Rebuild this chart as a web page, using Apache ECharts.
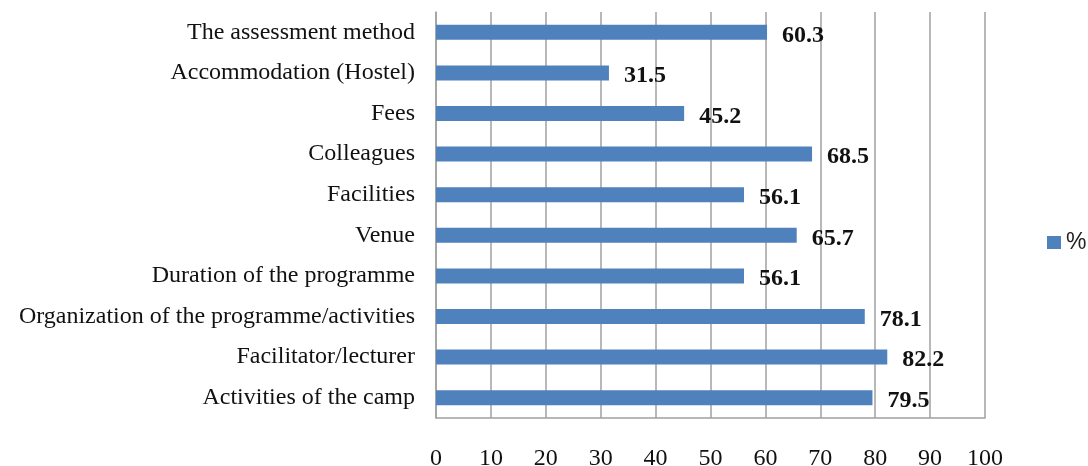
<!DOCTYPE html>
<html>
<head>
<meta charset="utf-8">
<script src="https://cdn.jsdelivr.net/npm/echarts@6/dist/echarts.min.js"></script>
<style>
  html, body { margin: 0; padding: 0; background: #fff; }
  #chart { width: 1088px; height: 466px; }
</style>
</head>
<body>
<div id="chart"></div>
<script>
// Categories listed bottom-to-top (category axis runs upward)
const categories = [
  'Activities of the camp',
  'Facilitator/lecturer',
  'Organization of the programme/activities',
  'Duration of the programme',
  'Venue',
  'Facilities',
  'Colleagues',
  'Fees',
  'Accommodation (Hostel)',
  'The assessment method'
];
const percentValues = [79.5, 82.2, 78.1, 56.1, 65.7, 56.1, 68.5, 45.2, 31.5, 60.3];
const seriesName = '%';

const serif = '"Liberation Serif", "Times New Roman", serif';

const chart = echarts.init(document.getElementById('chart'));
chart.setOption({
  animation: false,
  grid: { left: 436, right: 103, top: 12, bottom: 48, outerBoundsMode: 'none', containLabel: false },
  legend: {
    data: [seriesName],
    left: 1042,
    top: 226,
    itemWidth: 14,
    itemHeight: 13,
    itemGap: 6,
    icon: 'rect',
    textStyle: { fontFamily: '"Liberation Sans", Arial, sans-serif', fontSize: 23, color: '#222' }
  },
  xAxis: {
    type: 'value',
    min: 0,
    max: 100,
    interval: 10,
    axisLine: { show: true, lineStyle: { color: '#a0a0a0', width: 1.5 } },
    axisTick: { show: false },
    splitLine: { show: true, lineStyle: { color: '#a0a0a0', width: 1.5 } },
    axisLabel: { margin: 29, fontFamily: serif, fontSize: 24, color: '#111' }
  },
  yAxis: {
    type: 'category',
    data: categories,
    axisLine: { show: true, lineStyle: { color: '#a0a0a0', width: 1.5 } },
    axisTick: { show: false },
    axisLabel: { margin: 21, fontFamily: serif, fontSize: 24, color: '#111', padding: [4, 0, 0, 0] }
  },
  series: [{
    name: seriesName,
    type: 'bar',
    data: percentValues,
    barWidth: 15,
    itemStyle: { color: '#4f81bd' },
    label: {
      show: true,
      position: 'right',
      distance: 15,
      fontFamily: serif,
      fontWeight: 'bold',
      fontSize: 24,
      color: '#111',
      offset: [0, 3]
    }
  }]
});
</script>
</body>
</html>
